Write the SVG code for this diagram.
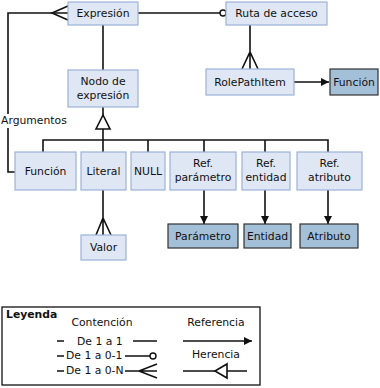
<svg xmlns="http://www.w3.org/2000/svg" width="380" height="388" viewBox="0 0 380 388">
<style>
.lt{fill:#dfe7f4;stroke:#9cb2d8;stroke-width:1.2}
.dk{fill:#a4bfd8;stroke:#333;stroke-width:1.2}
text{font-family:"DejaVu Sans",Verdana,sans-serif;font-size:10.8px;fill:#111}
.c{text-anchor:middle}
.ln{fill:none;stroke:#111;stroke-width:1.6}
</style>
<defs>
<marker id="arr" viewBox="0 0 8 8" refX="8" refY="4" markerWidth="8" markerHeight="8" markerUnits="userSpaceOnUse" orient="auto">
<path d="M0,0 L8,4 L0,8 Z" fill="#111"/>
</marker>
</defs>
<rect width="380" height="388" fill="#fff"/>
<g id="connectors">
<path class="ln" d="M68,13 H8 V114 M8,128 V172 H15"/>
<path class="ln" d="M68,6 L52,13 L68,20"/>
<path class="ln" d="M138,13 H220"/>
<circle cx="223" cy="13" r="3" fill="#fff" stroke="#111" stroke-width="1.4"/>
<path class="ln" d="M250,25 V69 M242,69 L250,52 L258,69"/>
<path class="ln" d="M294,82 H329" marker-end="url(#arr)"/>
<path class="ln" d="M103,25 V70"/>
<path class="ln" d="M103,107 V115"/>
<path d="M103,115 L96,129 L110,129 Z" fill="#fff" stroke="#111" stroke-width="1.6"/>
<path class="ln" d="M103,129 V152 M43,152 V140 H328 V152 M148,140 V152 M204,140 V152 M265,140 V152"/>
<path class="ln" d="M204,190 V224" marker-end="url(#arr)"/>
<path class="ln" d="M265,190 V224" marker-end="url(#arr)"/>
<path class="ln" d="M328,190 V224" marker-end="url(#arr)"/>
<path class="ln" d="M103,190 V235 M96,235 L103,218 L111,235"/>
</g>
<g id="expresion"><rect class="lt" x="68" y="2" width="70" height="23"/><text class="c" x="103" y="17">Expresión</text></g>
<g id="ruta"><rect class="lt" x="226" y="2" width="101" height="23"/><text class="c" x="276.5" y="17">Ruta de acceso</text></g>
<g id="nodo"><rect class="lt" x="68" y="70" width="70" height="37"/><text class="c" x="103" y="85">Nodo de</text><text class="c" x="103" y="99">expresión</text></g>
<g id="rolepathitem"><rect class="lt" x="206" y="69" width="88" height="26"/><text class="c" x="250" y="86">RolePathItem</text></g>
<g id="funcion2"><rect class="dk" x="330" y="69" width="48" height="26"/><text class="c" x="354" y="86">Función</text></g>
<text x="1" y="124">Argumentos</text>
<g id="funcion"><rect class="lt" x="15" y="152" width="61" height="38"/><text class="c" x="45.5" y="175">Función</text></g>
<g id="literal"><rect class="lt" x="81" y="152" width="45" height="38"/><text class="c" x="103.5" y="175">Literal</text></g>
<g id="null"><rect class="lt" x="131" y="152" width="34" height="38"/><text class="c" x="148" y="175">NULL</text></g>
<g id="refparametro"><rect class="lt" x="170" y="152" width="66" height="38"/><text class="c" x="203" y="167">Ref.</text><text class="c" x="203" y="181">parámetro</text></g>
<g id="refentidad"><rect class="lt" x="242" y="152" width="48" height="38"/><text class="c" x="266" y="167">Ref.</text><text class="c" x="266" y="181">entidad</text></g>
<g id="refatributo"><rect class="lt" x="297" y="152" width="65" height="38"/><text class="c" x="329.5" y="167">Ref.</text><text class="c" x="329.5" y="181">atributo</text></g>
<g id="parametro"><rect class="dk" x="168" y="224" width="70" height="24"/><text class="c" x="203" y="240">Parámetro</text></g>
<g id="entidad"><rect class="dk" x="244" y="224" width="47" height="24"/><text class="c" x="267.5" y="240">Entidad</text></g>
<g id="atributo"><rect class="dk" x="300" y="224" width="58" height="24"/><text class="c" x="329" y="240">Atributo</text></g>
<g id="valor"><rect class="lt" x="81" y="235" width="45" height="25"/><text class="c" x="103.5" y="251">Valor</text></g>
<g id="leyenda">
<rect x="2" y="307" width="258" height="78" fill="#fff" stroke="#111" stroke-width="1.3"/>
<text x="6" y="318" font-weight="bold">Leyenda</text>
<text class="c" x="102" y="326">Contención</text>
<text class="c" x="216" y="326">Referencia</text>
<text class="c" x="216" y="358">Herencia</text>
<text x="77" y="345">De 1 a 1</text>
<text x="66" y="359">De 1 a 0-1</text>
<text x="66" y="374">De 1 a 0-N</text>
<path class="ln" d="M57,341 H64 M133,341 H157 M57,356 H64 M125,356 H150 M57,371 H64 M125,371 H157 M157,364 L139,371 L157,378"/>
<circle cx="153" cy="356" r="3" fill="#fff" stroke="#111" stroke-width="1.4"/>
<path class="ln" d="M183,341 H252" marker-end="url(#arr)"/>
<path class="ln" d="M183,371 H215 M227,371 H247"/>
<path d="M215,371 L227,364 L227,378 Z" fill="#fff" stroke="#111" stroke-width="1.6"/>
</g>
</svg>
